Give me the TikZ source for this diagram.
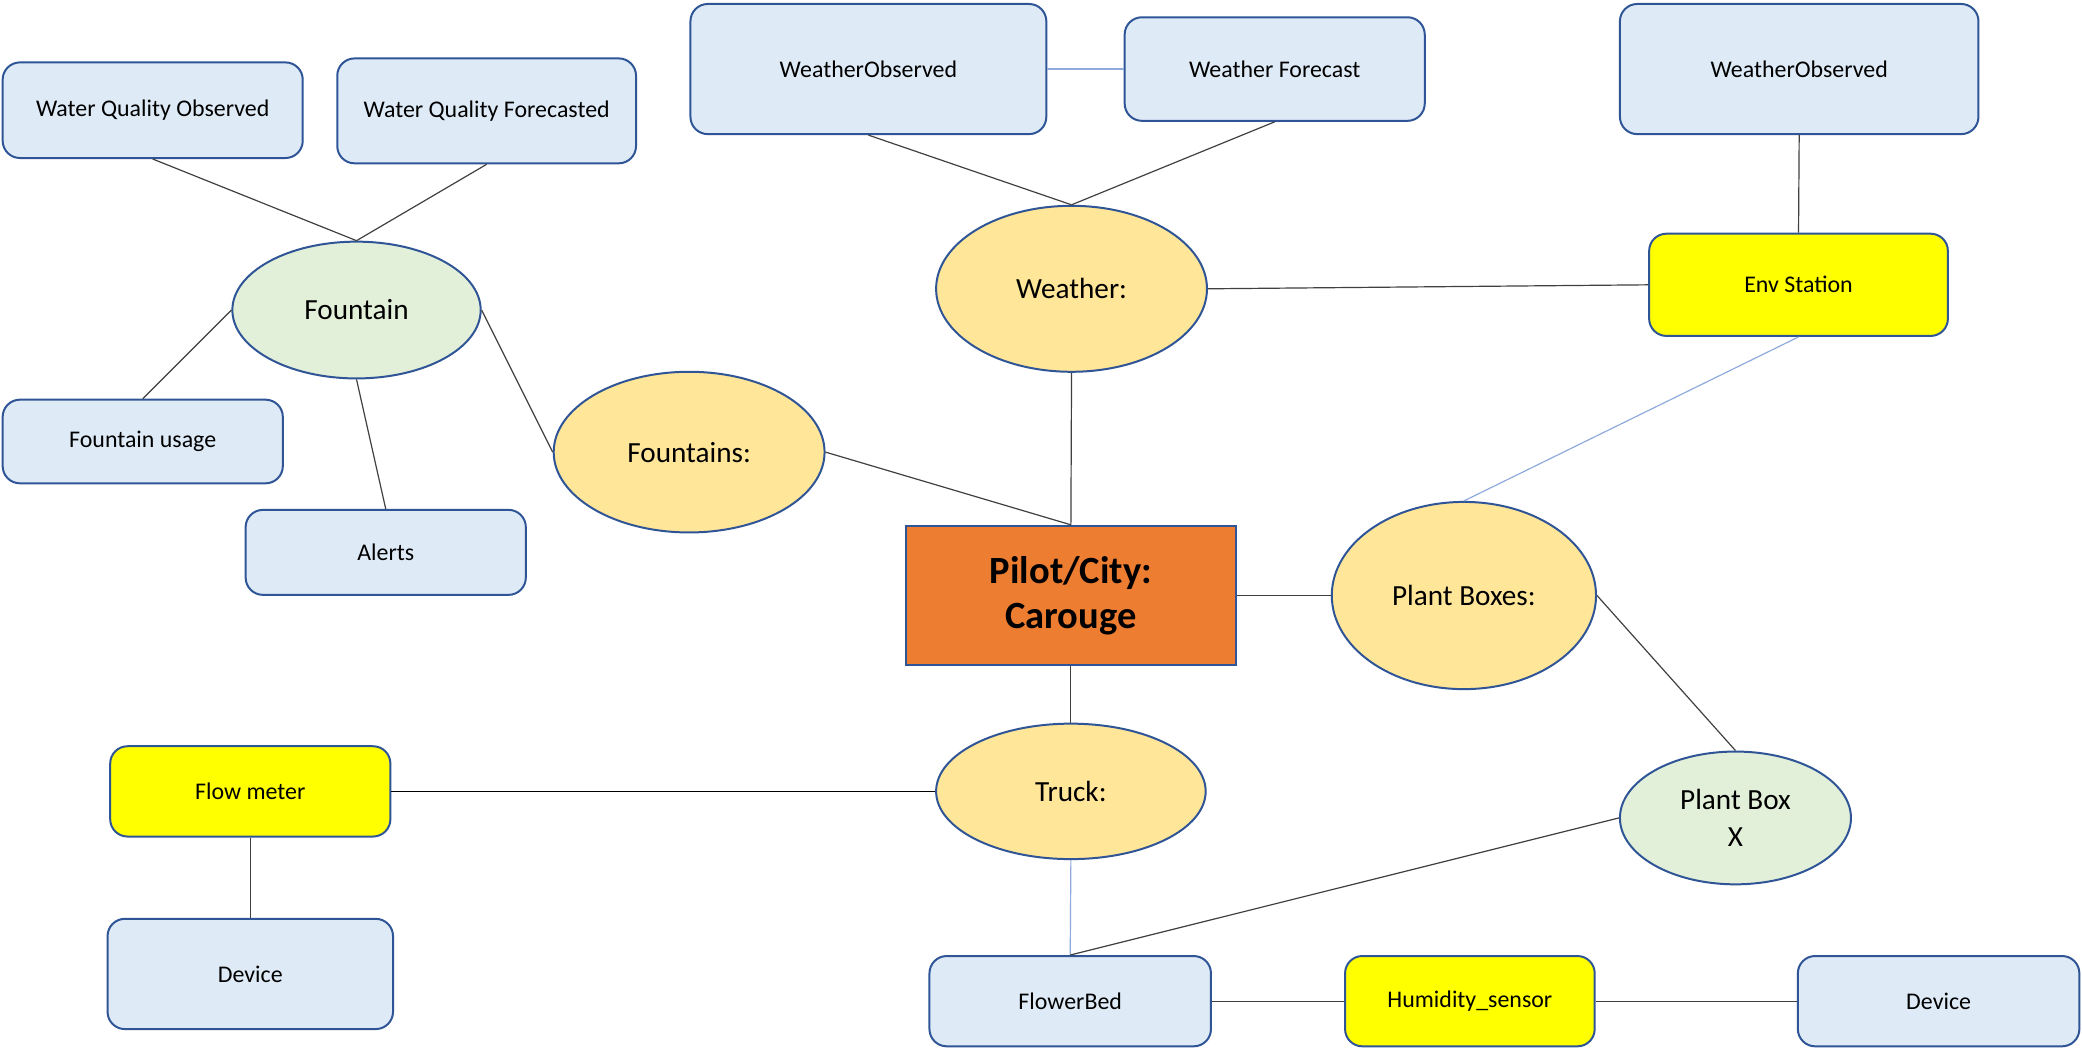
\documentclass[tikz,border=0pt]{standalone}
\usepackage{fontspec}
\setmainfont{Carlito}
\usetikzlibrary{shapes.geometric}
\definecolor{boxfill}{HTML}{DEEBF7}
\definecolor{edge}{HTML}{2F5597}
\definecolor{sensor}{HTML}{FFFF00}
\definecolor{group}{HTML}{FFE699}
\definecolor{item}{HTML}{E2F0D9}
\definecolor{hub}{HTML}{ED7D31}
\definecolor{link}{HTML}{404040}
\definecolor{palelink}{HTML}{8FAADC}
\begin{document}
\begin{tikzpicture}[x=1pt,y=-1pt,
  entity/.style={draw=edge, line width=1.5pt, fill=boxfill, rounded corners=13pt,
    inner sep=0pt, font=\fontsize{18}{22}\selectfont},
  sensorbox/.style={entity, fill=sensor},
  oval/.style={draw=edge, line width=1.5pt, ellipse, fill=group, inner sep=0pt,
    font=\fontsize{22}{28}\selectfont, align=center},
  leaf/.style={oval, fill=item},
  hubbox/.style={draw=edge, line width=1.5pt, fill=hub, inner sep=0pt, align=center,
    font=\bfseries\fontsize{29}{34}\selectfont},
  wire/.style={draw=link, line width=0.9pt},
  bluewire/.style={draw=palelink, line width=0.9pt}]

\fill[white] (0,0) rectangle (1568,792);
\useasboundingbox (0,0) rectangle (1568,792);

% central hub
\node[hubbox, minimum width=249pt, minimum height=105pt] (pilot) at (806.5,448.5) {Pilot/City:\\Carouge};

% groups
\node[oval, minimum width=204pt, minimum height=121pt] (fountains) at (519,340.5) {Fountains:};
\node[oval, minimum width=204pt, minimum height=125pt] (weather) at (807,217.5) {Weather:};
\node[oval, minimum width=199pt, minimum height=141pt] (plants) at (1102.5,448.5) {Plant Boxes:};
\node[oval, minimum width=203pt, minimum height=102pt] (truck) at (806.5,596) {Truck:};

% items
\node[leaf, minimum width=187pt, minimum height=103pt] (fountain) at (268.5,233.5) {Fountain};
\node[leaf, minimum width=174pt, minimum height=100pt] (pbx) at (1307,616) {Plant Box\\X};

% entities
\node[entity, minimum width=226pt, minimum height=72pt] (wqo) at (115,83) {Water Quality Observed};
\node[entity, minimum width=225pt, minimum height=79pt] (wqf) at (366.5,83.5) {Water Quality Forecasted};
\node[entity, minimum width=268pt, minimum height=98pt] (wobs) at (654,52) {WeatherObserved};
\node[entity, minimum width=226pt, minimum height=78pt] (wfc) at (960,52) {Weather Forecast};
\node[entity, minimum width=270pt, minimum height=98pt] (wobsb) at (1355,52) {WeatherObserved};
\node[sensorbox, minimum width=225pt, minimum height=77pt] (env) at (1354.5,214.5) {Env Station};
\node[entity, minimum width=211pt, minimum height=63pt] (usage) at (107.5,332.5) {Fountain usage};
\node[entity, minimum width=211pt, minimum height=64pt] (alerts) at (290.5,416) {Alerts};
\node[sensorbox, minimum width=211pt, minimum height=68pt] (flow) at (188.5,596) {Flow meter};
\node[entity, minimum width=215pt, minimum height=83pt] (devl) at (188.5,733.5) {Device};
\node[entity, minimum width=212pt, minimum height=68pt] (flower) at (806,754) {FlowerBed};
\node[sensorbox, minimum width=188pt, minimum height=68pt] (humid) at (1107,754) {Humidity\_sensor};
\node[entity, minimum width=212pt, minimum height=68pt] (devr) at (1460,754) {Device};

% connectors
\draw[wire] (wqo.south) -- (fountain.north);
\draw[wire] (wqf.south) -- (fountain.north);
\draw[wire] (fountain.west) -- (usage.north);
\draw[wire] (fountain.south) -- (alerts.north);
\draw[wire] (fountain.east) -- (fountains.west);
\draw[wire] (fountains.east) -- (pilot.north);
\draw[wire] (weather.south) -- (pilot.north);
\draw[wire] (wobs.south) -- (weather.north);
\draw[wire] (wfc.south) -- (weather.north);
\draw[bluewire] (wobs.east) -- (wfc.west);
\draw[wire] (weather.east) -- (env.west);
\draw[wire] (wobsb.south) -- (env.north);
\draw[bluewire] (env.south) -- (plants.north);
\draw[wire] (pilot.east) -- (plants.west);
\draw[wire] (plants.east) -- (pbx.north);
\draw[wire] (pilot.south) -- (truck.north);
\draw[wire, draw=black] (flow.east) -- (truck.west);
\draw[wire] (flow.south) -- (devl.north);
\draw[bluewire] (truck.south) -- (flower.north);
\draw[wire] (flower.north) -- (pbx.west);
\draw[wire] (flower.east) -- (humid.west);
\draw[wire] (humid.east) -- (devr.west);
\end{tikzpicture}
\end{document}
